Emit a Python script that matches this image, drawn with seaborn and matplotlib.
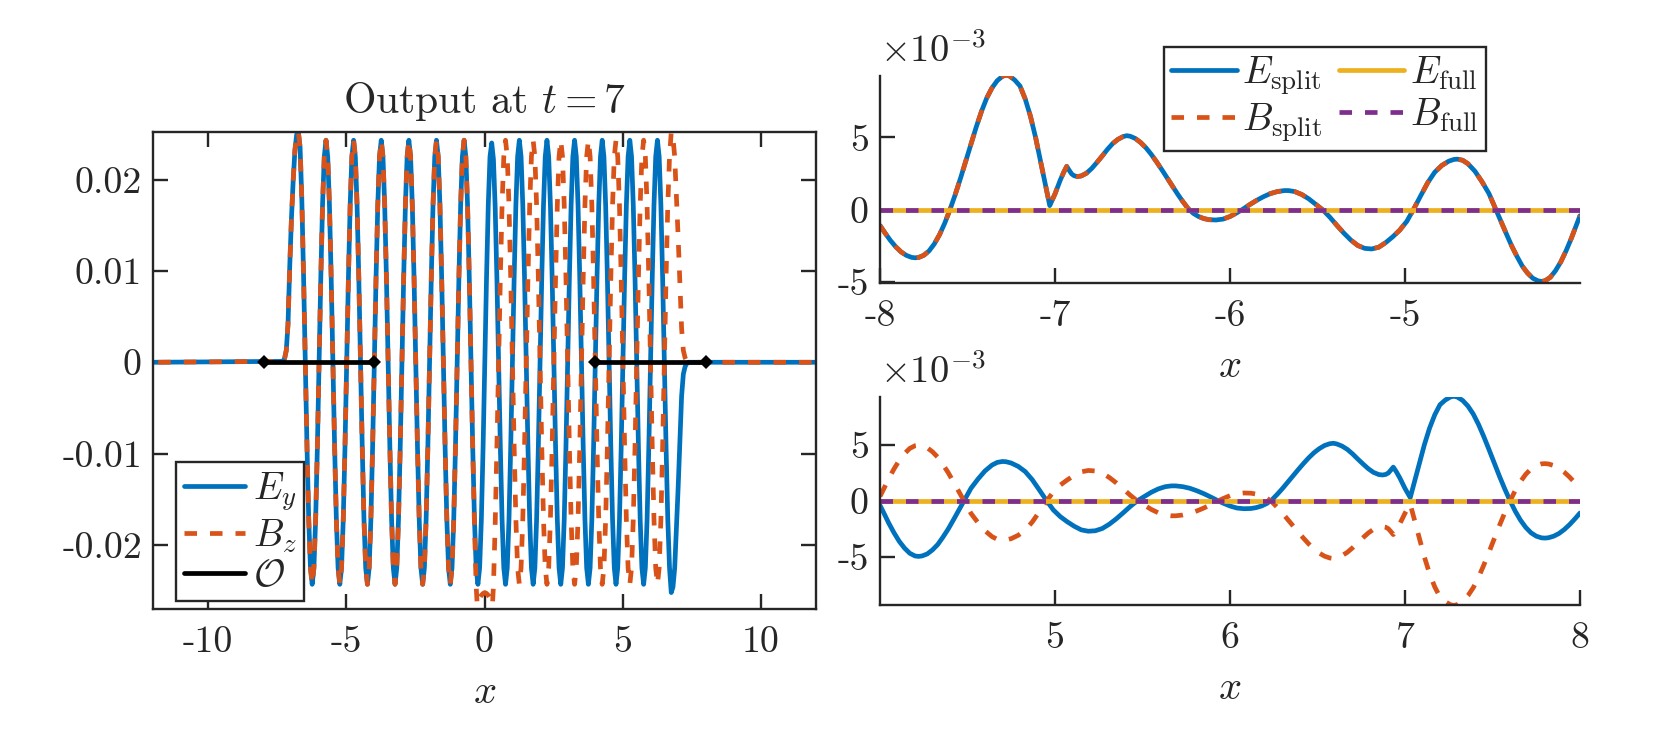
import numpy as np
import matplotlib
matplotlib.use("Agg")
import matplotlib.pyplot as plt
import matplotlib.lines as mlines
import seaborn as sns

# ---- left panel data ----
x_left = [-12.0] + list(np.linspace(-7.30, 7.385, 236)) + [12.0]
E_left = [0.0,
    .0001, .0004, .0013, .0042, .0105, .0158, .0199, .0232, .0249,
    .0252, .0235, .0178, .0095, 0, -.0093, -.0172, -.0225, -.0243, -.0225, -.0172, -.0093, 0, .0093, .0172, .0225,
    .0243, .0225, .0172, .0093, 0, -.0093, -.0172, -.0225, -.0243, -.0225, -.0172, -.0093, 0, .0093, .0172, .0225,
    .0243, .0225, .0172, .0093, 0, -.0093, -.0172, -.0225, -.0243, -.0225, -.0172, -.0093, 0, .0093, .0172, .0225,
    .0243, .0225, .0172, .0093, 0, -.0093, -.0172, -.0225, -.0243, -.0225, -.0172, -.0093, 0, .0093, .0172, .0225,
    .0243, .0225, .0172, .0093, 0, -.0093, -.0172, -.0225, -.0243, -.0225, -.0172, -.0093, 0, .0093, .0172, .0225,
    .0243, .0225, .0172, .0093, 0, -.0093, -.0172, -.0225, -.0243, -.0225, -.0172, -.0093, 0, .0093, .0172, .0225,
    .0243, .0225, .0172, .0093, 0, -.0093, -.0172, -.0225, -.0243, -.0225, -.0172, -.0093, 0, .0093, .0172, .0225,
    .0240, .0222, .0170, .0092, 0, -.0093, -.0172, -.0225, -.0243, -.0225, -.0172, -.0093, 0, .0093, .0172, .0225,
    .0243, .0225, .0172, .0093, 0, -.0093, -.0172, -.0225, -.0243, -.0225, -.0172, -.0093, 0, .0093, .0172, .0225,
    .0243, .0225, .0172, .0093, 0, -.0093, -.0172, -.0225, -.0243, -.0225, -.0172, -.0093, 0, .0093, .0172, .0225,
    .0243, .0225, .0172, .0093, 0, -.0093, -.0172, -.0225, -.0243, -.0225, -.0172, -.0093, 0, .0093, .0172, .0225,
    .0243, .0225, .0172, .0093, 0, -.0093, -.0172, -.0225, -.0243, -.0225, -.0172, -.0093, 0, .0093, .0172, .0225,
    .0243, .0225, .0172, .0093, 0, -.0093, -.0172, -.0225, -.0243, -.0225, -.0172, -.0093, 0, .0093, .0172, .0225,
    .0243, .0225, .0172, .0093, 0, -.0093, -.0172, -.0225, -.0252,
    -.0246, -.0225, -.0181, -.0137, -.0086, -.0037, -.0013, -.0005, -.0001, 0,
    0.0]
B_left = [0.0,
    .0001, .0004, .0013, .0042, .0105, .0158, .0199, .0232, .0249,
    .0252, .0235, .0178, .0095, 0, -.0093, -.0172, -.0225, -.0243, -.0225, -.0172, -.0093, 0, .0093, .0172, .0225,
    .0243, .0225, .0172, .0093, 0, -.0093, -.0172, -.0225, -.0243, -.0225, -.0172, -.0093, 0, .0093, .0172, .0225,
    .0243, .0225, .0172, .0093, 0, -.0093, -.0172, -.0225, -.0243, -.0225, -.0172, -.0093, 0, .0093, .0172, .0225,
    .0243, .0225, .0172, .0093, 0, -.0093, -.0172, -.0225, -.0243, -.0225, -.0172, -.0093, 0, .0093, .0172, .0225,
    .0243, .0225, .0172, .0093, 0, -.0093, -.0172, -.0225, -.0243, -.0225, -.0172, -.0093, 0, .0093, .0172, .0225,
    .0243, .0225, .0172, .0093, 0, -.0093, -.0172, -.0225, -.0243, -.0225, -.0172, -.0093, 0, .0093, .0172, .0225,
    .0243, .0225, .0172, .0093, 0, -.0093, -.0178, -.0245, -.0280, -.0258, -.0255, -.0253, -.0252, -.0253, -.0255, -.0258,
    -.0280, -.0245, -.0178, -.0093, 0, .0093, .0172, .0225, .0243, .0225, .0172, .0093, 0, -.0093, -.0172, -.0225,
    -.0243, -.0225, -.0172, -.0093, 0, .0093, .0172, .0225, .0243, .0225, .0172, .0093, 0, -.0093, -.0172, -.0225,
    -.0243, -.0225, -.0172, -.0093, 0, .0093, .0172, .0225, .0243, .0225, .0172, .0093, 0, -.0093, -.0172, -.0225,
    -.0243, -.0225, -.0172, -.0093, 0, .0093, .0172, .0225, .0243, .0225, .0172, .0093, 0, -.0093, -.0172, -.0225,
    -.0243, -.0225, -.0172, -.0093, 0, .0093, .0172, .0225, .0243, .0225, .0172, .0093, 0, -.0093, -.0172, -.0225,
    -.0243, -.0225, -.0172, -.0093, 0, .0093, .0172, .0225, .0243, .0225, .0172, .0093, 0, -.0093, -.0172, -.0225,
    -.0243, -.0225, -.0172, -.0093, 0, .0093, .0172, .0225, .0252,
    .0246, .0225, .0181, .0137, .0086, .0037, .0013, .0005, .0001, 0,
    0.0]
obs_left_x = [-8, -4]
obs_right_x = [4, 8]
obs_y = [0, 0]
left_xticks = [-10, -5, 0, 5, 10]
left_yticks = [-0.02, -0.01, 0, 0.01, 0.02]
left_xlabels = ["-10", "-5", "0", "5", "10"]
left_ylabels = ["-0.02", "-0.01", "0", "0.01", "0.02"]

# ---- top right panel (units of 1e-3) ----
x_top = [-8.00, -7.97, -7.94, -7.91, -7.88, -7.85, -7.82, -7.80, -7.78, -7.75,
         -7.72, -7.69, -7.66, -7.63, -7.60, -7.57, -7.54, -7.51, -7.48, -7.45,
         -7.42, -7.39, -7.36, -7.33, -7.30, -7.28, -7.26, -7.23, -7.20, -7.17,
         -7.14, -7.11, -7.08, -7.05, -7.03, -7.00, -6.97, -6.95, -6.933, -6.92,
         -6.905, -6.89, -6.872, -6.85, -6.82, -6.79, -6.76, -6.73, -6.70, -6.67,
         -6.64, -6.61, -6.59, -6.57, -6.54, -6.51, -6.48, -6.45, -6.42, -6.39,
         -6.36, -6.33, -6.30, -6.27, -6.24, -6.21, -6.18, -6.15, -6.12, -6.08,
         -6.04, -6.00, -5.96, -5.93, -5.89, -5.85, -5.81, -5.77, -5.73, -5.69,
         -5.665, -5.63, -5.59, -5.55, -5.51, -5.47, -5.43, -5.39, -5.35, -5.31,
         -5.27, -5.23, -5.19, -5.15, -5.11, -5.07, -5.03, -4.99, -4.95, -4.91,
         -4.87, -4.83, -4.79, -4.75, -4.72, -4.70, -4.67, -4.64, -4.60, -4.56,
         -4.52, -4.48, -4.45, -4.42, -4.39, -4.36, -4.33, -4.30, -4.27, -4.24,
         -4.22, -4.20, -4.17, -4.14, -4.11, -4.08, -4.05, -4.02, -4.00]
E_top = [-1.08, -1.62, -2.12, -2.55, -2.90, -3.14, -3.28, -3.31, -3.29, -3.14,
         -2.84, -2.36, -1.72, -0.92, 0.02, 1.06, 2.18, 3.36, 4.56, 5.72,
         6.80, 7.72, 8.42, 8.92, 9.22, 9.30, 9.24, 8.96, 8.55, 7.65,
         6.45, 4.95, 3.20, 1.45, 0.29, 1.10, 2.05, 2.60, 3.00, 2.75,
         2.48, 2.35, 2.30, 2.34, 2.53, 2.86, 3.28, 3.72, 4.18, 4.58,
         4.87, 5.06, 5.12, 5.08, 4.92, 4.64, 4.28, 3.83, 3.32, 2.78,
         2.22, 1.66, 1.10, 0.58, 0.10, -0.24, -0.46, -0.60, -0.68, -0.70,
         -0.64, -0.46, -0.20, 0.02, 0.34, 0.64, 0.90, 1.12, 1.26, 1.33,
         1.33, 1.26, 1.06, 0.76, 0.38, 0.0, -0.50, -1.06, -1.60, -2.08,
         -2.46, -2.66, -2.70, -2.58, -2.26, -1.86, -1.40, -0.80, 0.06, 0.98,
         1.88, 2.60, 3.06, 3.36, 3.48, 3.50, 3.42, 3.18, 2.66, 1.94,
         1.12, 0.0, -0.84, -1.68, -2.50, -3.22, -3.88, -4.36, -4.72, -4.90,
         -4.94, -4.90, -4.66, -4.20, -3.60, -2.84, -1.98, -1.02, -0.40]
B_top = [-1.08, -1.62, -2.12, -2.55, -2.90, -3.14, -3.28, -3.31, -3.29, -3.14,
         -2.84, -2.36, -1.72, -0.92, 0.02, 1.06, 2.18, 3.36, 4.56, 5.72,
         6.80, 7.72, 8.42, 8.92, 9.22, 9.30, 9.24, 8.96, 8.55, 7.65,
         6.45, 4.95, 3.20, 1.45, 0.29, 1.10, 2.05, 2.60, 3.00, 2.75,
         2.48, 2.35, 2.30, 2.34, 2.53, 2.86, 3.28, 3.72, 4.18, 4.58,
         4.87, 5.06, 5.12, 5.08, 4.92, 4.64, 4.28, 3.83, 3.32, 2.78,
         2.22, 1.66, 1.10, 0.58, 0.10, -0.24, -0.46, -0.60, -0.68, -0.70,
         -0.64, -0.46, -0.20, 0.02, 0.34, 0.64, 0.90, 1.12, 1.26, 1.33,
         1.33, 1.26, 1.06, 0.76, 0.38, 0.0, -0.50, -1.06, -1.60, -2.08,
         -2.46, -2.66, -2.70, -2.58, -2.26, -1.86, -1.40, -0.80, 0.06, 0.98,
         1.88, 2.60, 3.06, 3.36, 3.48, 3.50, 3.42, 3.18, 2.66, 1.94,
         1.12, 0.0, -0.84, -1.68, -2.50, -3.22, -3.88, -4.36, -4.72, -4.90,
         -4.94, -4.90, -4.66, -4.20, -3.60, -2.84, -1.98, -1.02, -0.40]

# ---- bottom right panel (units of 1e-3) ----
x_bot = [4.00, 4.02, 4.05, 4.08, 4.11, 4.14, 4.17, 4.20, 4.22,
         4.24, 4.27, 4.30, 4.33, 4.36, 4.39, 4.42, 4.45, 4.48, 4.52,
         4.56, 4.60, 4.64, 4.67, 4.70, 4.72, 4.75, 4.79, 4.83, 4.87,
         4.91, 4.95, 4.99, 5.03, 5.07, 5.11, 5.15, 5.19, 5.23, 5.27,
         5.31, 5.35, 5.39, 5.43, 5.47, 5.51, 5.55, 5.59, 5.63, 5.665,
         5.69, 5.73, 5.77, 5.81, 5.85, 5.89, 5.93, 5.96, 6.00, 6.04,
         6.08, 6.12, 6.15, 6.18, 6.21, 6.24, 6.27, 6.30, 6.33, 6.36,
         6.39, 6.42, 6.45, 6.48, 6.51, 6.54, 6.57, 6.59, 6.61, 6.64,
         6.67, 6.70, 6.73, 6.76, 6.79, 6.82, 6.85, 6.872, 6.89, 6.905,
         6.92, 6.933, 6.95, 6.97, 7.00, 7.03, 7.05, 7.08, 7.11, 7.14,
         7.17, 7.20, 7.23, 7.26, 7.28, 7.30, 7.33, 7.36, 7.39, 7.42,
         7.45, 7.48, 7.51, 7.54, 7.57, 7.60, 7.63, 7.66, 7.69, 7.72,
         7.75, 7.78, 7.80, 7.82, 7.85, 7.88, 7.91, 7.94, 7.97, 8.00]
E_bot = [-0.40, -1.02, -1.98, -2.84, -3.60, -4.20, -4.66, -4.90, -4.94,
         -4.90, -4.72, -4.36, -3.88, -3.22, -2.50, -1.68, -0.84, 0.0, 1.12,
         1.94, 2.66, 3.18, 3.42, 3.50, 3.48, 3.36, 3.06, 2.60, 1.88,
         0.98, 0.06, -0.80, -1.40, -1.86, -2.26, -2.58, -2.70, -2.66, -2.46,
         -2.08, -1.60, -1.06, -0.50, 0.0, 0.38, 0.76, 1.06, 1.26, 1.33,
         1.33, 1.26, 1.12, 0.90, 0.64, 0.34, 0.02, -0.20, -0.46, -0.64,
         -0.70, -0.68, -0.60, -0.46, -0.24, 0.10, 0.58, 1.10, 1.66, 2.22,
         2.78, 3.32, 3.83, 4.28, 4.64, 4.92, 5.08, 5.12, 5.06, 4.87,
         4.58, 4.18, 3.72, 3.28, 2.86, 2.53, 2.34, 2.30, 2.35, 2.48,
         2.75, 3.00, 2.60, 2.05, 1.10, 0.29, 1.45, 3.20, 4.95, 6.45,
         7.65, 8.55, 8.96, 9.24, 9.30, 9.22, 8.92, 8.42, 7.72, 6.80,
         5.72, 4.56, 3.36, 2.18, 1.06, 0.02, -0.92, -1.72, -2.36, -2.84,
         -3.14, -3.29, -3.31, -3.28, -3.14, -2.90, -2.55, -2.12, -1.62, -1.08]
B_bot = [0.40, 1.02, 1.98, 2.84, 3.60, 4.20, 4.66, 4.90, 4.94,
         4.90, 4.72, 4.36, 3.88, 3.22, 2.50, 1.68, 0.84, 0.0, -1.12,
         -1.94, -2.66, -3.18, -3.42, -3.50, -3.48, -3.36, -3.06, -2.60, -1.88,
         -0.98, -0.06, 0.80, 1.40, 1.86, 2.26, 2.58, 2.70, 2.66, 2.46,
         2.08, 1.60, 1.06, 0.50, 0.0, -0.38, -0.76, -1.06, -1.26, -1.33,
         -1.33, -1.26, -1.12, -0.90, -0.64, -0.34, -0.02, 0.20, 0.46, 0.64,
         0.70, 0.68, 0.60, 0.46, 0.24, -0.10, -0.58, -1.10, -1.66, -2.22,
         -2.78, -3.32, -3.83, -4.28, -4.64, -4.92, -5.08, -5.12, -5.06, -4.87,
         -4.58, -4.18, -3.72, -3.28, -2.86, -2.53, -2.34, -2.30, -2.35, -2.48,
         -2.75, -3.00, -2.60, -2.05, -1.10, -0.29, -1.45, -3.20, -4.95, -6.45,
         -7.65, -8.55, -8.96, -9.24, -9.30, -9.22, -8.92, -8.42, -7.72, -6.80,
         -5.72, -4.56, -3.36, -2.18, -1.06, -0.02, 0.92, 1.72, 2.36, 2.84,
         3.14, 3.29, 3.31, 3.28, 3.14, 2.90, 2.55, 2.12, 1.62, 1.08]
x_full_top = [-8, -4]
x_full_bot = [4, 8]
E_full = [0, 0]
B_full = [0, 0]

top_xticks = [-8, -7, -6, -5]
bot_xticks = [5, 6, 7, 8]
right_yticks = [-5, 0, 5]
top_xlabels = ["-8", "-7", "-6", "-5"]
bot_xlabels = ["5", "6", "7", "8"]
right_ylabels = ["-5", "0", "5"]

# ---- style ----
BLUE, ORANGE, YELLOW, PURPLE = "#0072BD", "#D95319", "#EDB120", "#7E2F8E"
INK = "#262626"
LW = 1.7
DASH_ON, DASH_OFF = 2.65, 2.75
DASH = (0, (DASH_ON, DASH_OFF))
FS = 13.6
LEG_FS = 13.8

sns.set_style("ticks")
plt.rcParams.update({
    "font.family": ["cmr10", "DejaVu Sans"],
    "mathtext.fontset": "cm",
    "axes.unicode_minus": False,
    "axes.edgecolor": INK,
    "axes.linewidth": 0.85,
    "text.color": INK,
    "xtick.color": INK,
    "ytick.color": INK,
    "axes.labelcolor": INK,
})

W, H = 1666, 734
fig = plt.figure(figsize=(W / 200, H / 200), dpi=200)


def place(l, r, t, b):
    return fig.add_axes([l / W, 1 - b / H, (r - l) / W, (b - t) / H])


def line(ax, x, y, color, dashed=False, label=None, lw=LW):
    kw = {"linestyle": DASH} if dashed else {}
    sns.lineplot(x=np.array(x, float), y=np.array(y, float), ax=ax, color=color,
                 lw=lw, label=label, legend=False, estimator=None, sort=False,
                 errorbar=None, **kw)
    return ax.lines[-1]


def dress(ax, xticks, xlabels, yticks, ylabels, xlim, ylim):
    ax.set_xlim(*xlim)
    ax.set_ylim(*ylim)
    ax.set_xticks(xticks, xlabels)
    ax.set_yticks(yticks, ylabels)
    ax.tick_params(direction="in", length=5.4, width=0.85, labelsize=FS, pad=6)
    ax.tick_params(axis="y", pad=4)
    ax.set_xlabel("$x$", fontsize=FS + 1, labelpad=6)
    ax.set_ylabel("")


def proxy(color, dashed=False):
    return mlines.Line2D([], [], color=color, lw=LW, linestyle=DASH if dashed else "-")


# left panel
axL = place(153, 816, 132, 609)
hE = line(axL, x_left, E_left, BLUE)
hB = line(axL, x_left, B_left, ORANGE, dashed=True)
for ox in (obs_left_x, obs_right_x):
    hO = line(axL, ox, obs_y, "black", lw=LW)
    hO.set_marker("D")
    hO.set_markersize(3.4)
    hO.set_markerfacecolor("black")
    hO.set_markeredgecolor("black")
    hO.set_markeredgewidth(0)
dress(axL, left_xticks, left_xlabels, left_yticks, left_ylabels, (-12, 12), (-0.0270, 0.0252))
axL.tick_params(top=True, right=True)
axL.set_title("Output at $t=7$", fontsize=15, pad=7)
sns.despine(ax=axL, top=False, right=False)

# shift the dash phase so that a dash falls on the small bump at x = 0, as in the figure
pts = axL.transData.transform(np.column_stack([x_left, B_left]))
seglen = np.hypot(*np.diff(pts, axis=0).T)
i0 = int(np.argmin(np.abs(np.array(x_left))))
len_px = seglen[:i0].sum()
unit_px = LW * 200 / 72
period_px = (DASH_ON + DASH_OFF) * unit_px
off_px = (DASH_ON * unit_px / 2 - len_px) % period_px
hB.set_linestyle((off_px / unit_px, (DASH_ON, DASH_OFF)))

leg = axL.legend([proxy(BLUE), proxy(ORANGE, True), proxy("black")],
                 ["$E_y$", "$B_z$", r"$\mathcal{O}$"],
                 loc="lower left", bbox_to_anchor=((176 - 153) / 663, (609 - 601) / 477),
                 frameon=True, fancybox=False, framealpha=1, edgecolor=INK,
                 fontsize=LEG_FS, handlelength=1.6, handletextpad=0.2,
                 borderaxespad=0, borderpad=0.2, labelspacing=0.12)
leg.get_frame().set_linewidth(0.85)

# top right panel
axT = place(880, 1580, 75.7, 283)
line(axT, x_top, E_top, BLUE)
line(axT, x_top, B_top, ORANGE, dashed=True)
line(axT, x_full_top, E_full, YELLOW)
line(axT, x_full_top, B_full, PURPLE, dashed=True)
dress(axT, top_xticks, top_xlabels, right_yticks, right_ylabels, (-8, -4), (-5.05, 9.26))
sns.despine(ax=axT)
axT.text(0, 1.03, r"$\times 10^{-3}$", transform=axT.transAxes, fontsize=13.9, ha="left", va="bottom")
leg2 = axT.legend([proxy(BLUE), proxy(ORANGE, True), proxy(YELLOW), proxy(PURPLE, True)],
                  [r"$E_{\mathrm{split}}$", r"$B_{\mathrm{split}}$", r"$E_{\mathrm{full}}$", r"$B_{\mathrm{full}}$"],
                  ncol=2, loc="upper right", bbox_to_anchor=((1486 - 880) / 700, 1 + (75.7 - 47) / 207.3),
                  frameon=True, fancybox=False, framealpha=1, edgecolor=INK,
                  fontsize=LEG_FS, handlelength=1.7, handletextpad=0.15, columnspacing=0.43,
                  borderaxespad=0, borderpad=0.2, labelspacing=0.1)
leg2.get_frame().set_linewidth(0.85)

# bottom right panel
axB = place(880, 1580, 396.7, 605)
line(axB, x_bot, E_bot, BLUE)
line(axB, x_bot, B_bot, ORANGE, dashed=True)
line(axB, x_full_bot, E_full, YELLOW)
line(axB, x_full_bot, B_full, PURPLE, dashed=True)
dress(axB, bot_xticks, bot_xlabels, right_yticks, right_ylabels, (4, 8), (-9.26, 9.26))
sns.despine(ax=axB)
axB.text(0, 1.03, r"$\times 10^{-3}$", transform=axB.transAxes, fontsize=13.9, ha="left", va="bottom")

fig.savefig("out.png", dpi=200, facecolor="white")
